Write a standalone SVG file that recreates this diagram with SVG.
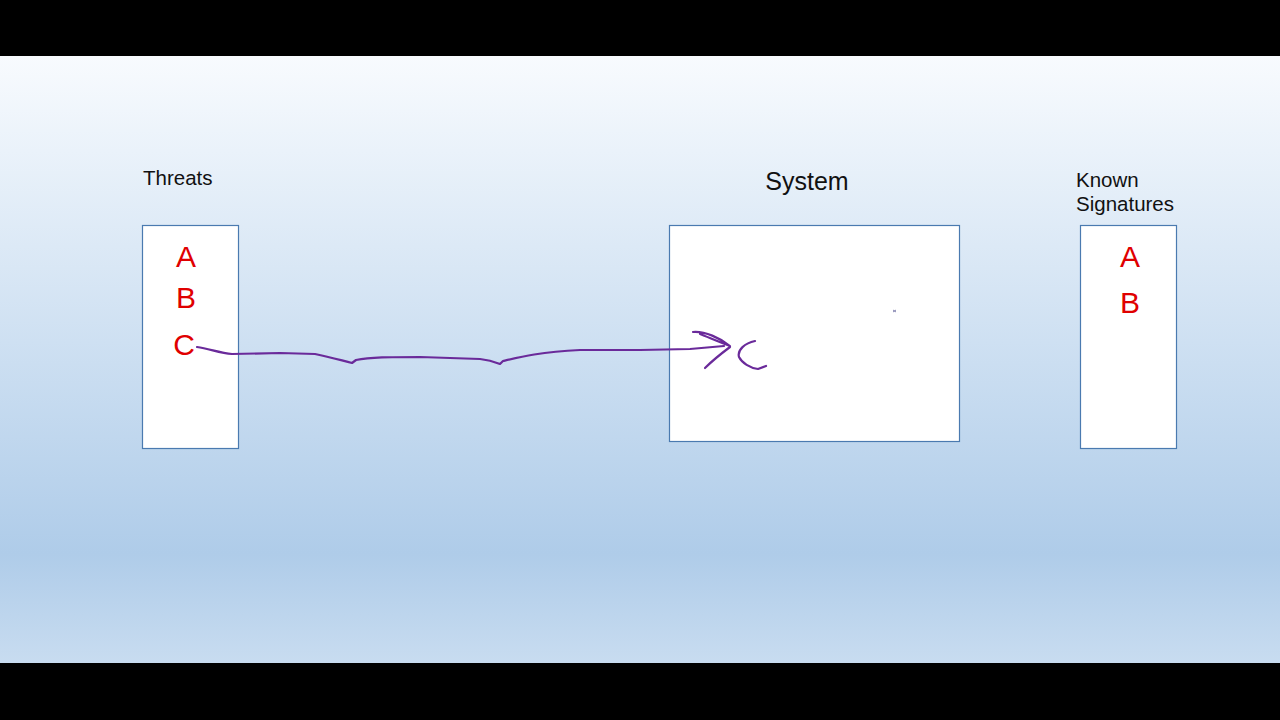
<svg xmlns="http://www.w3.org/2000/svg" width="1280" height="720" viewBox="0 0 1280 720">
<defs>
<linearGradient id="bg" x1="0" y1="0" x2="0" y2="1">
<stop offset="0" stop-color="#f8fbfe"/>
<stop offset="0.82" stop-color="#afcce9"/>
<stop offset="1" stop-color="#c8dcf0"/>
</linearGradient>
<style>
.box{fill:#ffffff;stroke:#4a7ab0;stroke-width:1.2}
.lbl{font-family:"Liberation Sans",Arial,sans-serif;fill:#111111}
.item{font-family:"Liberation Sans",Arial,sans-serif;font-size:30px;fill:#e00000;text-anchor:middle}
.ink{fill:none;stroke:#6a2a9a;stroke-width:2.2;stroke-linecap:round;stroke-linejoin:round}
</style>
</defs>
<rect x="0" y="0" width="1280" height="720" fill="#000000"/>
<rect x="0" y="56" width="1280" height="607" fill="url(#bg)"/>
<g id="threats">
<text class="lbl" x="143" y="185" font-size="20.5">Threats</text>
<rect class="box" x="142.5" y="225.5" width="96" height="223"/>
<text class="item" x="186" y="267">A</text>
<text class="item" x="186" y="308">B</text>
<text class="item" x="184" y="355">C</text>
</g>
<g id="system">
<text class="lbl" x="807" y="190" font-size="25" text-anchor="middle">System</text>
<rect class="box" x="669.5" y="225.5" width="290" height="216"/>
<path d="M893,310 l3,2 M896,310 l-3,2" stroke="#6a6aa0" stroke-width="0.8" fill="none"/>
</g>
<g id="known-signatures">
<text class="lbl" x="1076" y="187" font-size="20.5">Known</text>
<text class="lbl" x="1076" y="211" font-size="20.5">Signatures</text>
<rect class="box" x="1080.5" y="225.5" width="96" height="223"/>
<text class="item" x="1130" y="267">A</text>
<text class="item" x="1130" y="313">B</text>
</g>
<g id="connectors">
<path class="ink" d="M197,347 C210,349 220,353 232,354 L280,353 L315,354 C330,357 340,360 352,363 L356,360 C370,357 390,357 420,357 L480,359 C490,360 495,362 500,364 L503,361 C520,357 540,352 580,350 L640,350 L690,349 L724,346"/>
<path class="ink" d="M693,332 C705,331 720,338 730,346 C722,343 710,338 700,334 M730,347 C722,353 712,361 705,368"/>
<path class="ink" d="M755,341 C745,343 737,350 739,357 C742,363 750,368 758,369 L766,366"/>
</g>
</svg>
